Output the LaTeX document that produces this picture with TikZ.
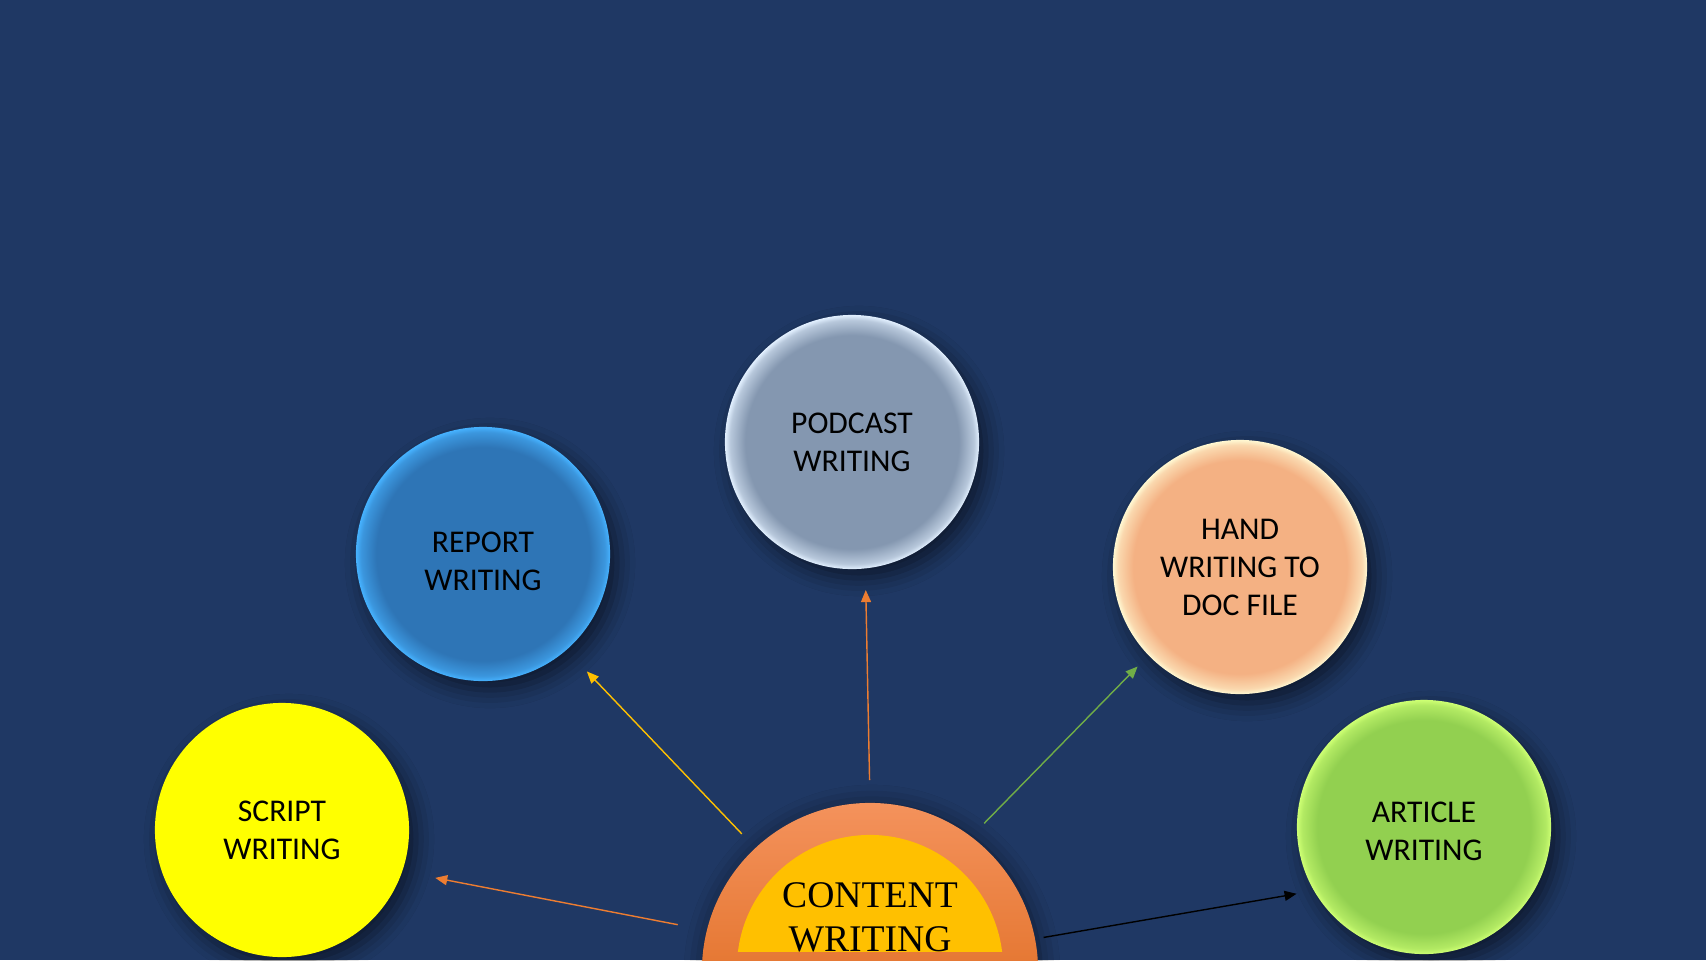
\documentclass[tikz,border=0pt]{standalone}
\usepackage{fontspec}
\setmainfont{Carlito}
\newfontfamily\titlefont{Liberation Serif}
\usetikzlibrary{arrows.meta,shadows.blur}

\definecolor{bgblue}{RGB}{31,56,100}
\definecolor{podcastfill}{RGB}{132,151,176}
\definecolor{podcastrim}{RGB}{226,240,255}
\definecolor{reportfill}{RGB}{46,117,182}
\definecolor{reportrim}{RGB}{70,178,255}
\definecolor{handfill}{RGB}{244,177,131}
\definecolor{handrim}{RGB}{255,248,210}
\definecolor{articlefill}{RGB}{146,208,80}
\definecolor{articlerim}{RGB}{205,255,115}
\definecolor{scriptfill}{RGB}{255,255,0}
\definecolor{contenttop}{RGB}{244,146,92}
\definecolor{contentbot}{RGB}{214,92,8}
\definecolor{contentgold}{RGB}{255,192,0}
\definecolor{arroworange}{RGB}{237,125,49}
\definecolor{arrowgold}{RGB}{255,192,0}
\definecolor{arrowgreen}{RGB}{112,173,71}

% the path box is the middle 50bp of the shading, so 25bp is the rim
\newcommand{\rimshading}[3]{%
  \pgfdeclareradialshading{#1}{\pgfpoint{0bp}{0bp}}%
    {color(0bp)=(#2); color(21bp)=(#2); color(24bp)=(#3!55!#2); color(25bp)=(#3); color(50bp)=(#3)}}
\rimshading{podcastshade}{podcastfill}{podcastrim}
\rimshading{reportshade}{reportfill}{reportrim}
\rimshading{handshade}{handfill}{handrim}
\rimshading{articleshade}{articlefill}{articlerim}

\newcommand{\textdrop}[1]{\rule{0pt}{#1}}

\tikzset{
  bubble/.style={circle, minimum size=2.54cm, inner sep=0pt, align=center,
    font=\fontsize{9}{10.8}\selectfont, text=black,
    blur shadow={shadow xshift=0.07cm, shadow yshift=-0.09cm,
      shadow blur radius=0.18cm, shadow opacity=55}},
  link/.style={-{Triangle[length=0.12cm,width=0.1cm]}, line width=0.4pt}
}

\begin{document}
\begin{tikzpicture}[x=0.01cm, y=-0.01cm]
            \useasboundingbox (0,0) rectangle (1706,960);
            \clip (0,0) rectangle (1706,960);
            \fill[bgblue] (0,0) rectangle (1706,960);
            \node[bubble, shading=podcastshade] (podcast) at (852,442) {PODCAST\\WRITING};
            \node[bubble, shading=reportshade] (report) at (483,554) {\textdrop{9.8pt}REPORT\\WRITING};
            \node[bubble, shading=handshade] (hand) at (1240,567) {HAND\\WRITING TO\\DOC FILE};
            \node[bubble, fill=scriptfill] (script) at (282,830) {SCRIPT\\WRITING};
            \node[bubble, shading=articleshade] (article) at (1424,827) {\textdrop{8.1pt}ARTICLE\\WRITING};
            \node[circle, minimum size=3.36cm, inner sep=0pt, top color=contenttop, bottom color=contentbot,
              blur shadow={shadow xshift=0.02cm, shadow yshift=-0.02cm, shadow blur radius=0.2cm, shadow opacity=50}]
              (content) at (870,971) {};
            \begin{scope}
              \clip (700,800) rectangle (1040,951);
              \fill[contentgold] (content.center) ++(0,-3) circle (1.33cm);
            \end{scope}
            \node[font=\titlefont\fontsize{10.7}{12.5}\selectfont, align=center, inner sep=0pt]
              (title) at (870,917) {CONTENT\\WRITING};
            \draw[link, arroworange, shorten <=0.29cm, shorten >=0.33cm] (content.166.8) -- (script.-19);
            \draw[link, arrowgold, shorten <=0.19cm, shorten >=0.29cm] (content.133.3) -- (report.-49.7);
            \draw[link, arroworange, shorten <=0.22cm, shorten >=0.21cm] (content.90.6) -- (podcast.-84.6);
            \draw[link, arrowgreen, shorten <=0.18cm, shorten >=0.15cm] (content.53.3) -- (hand.224.7);
            \draw[link, black, shorten <=0.08cm, shorten >=0.17cm] (content.11.8) -- (article.210);
        \end{tikzpicture}
\end{document}
